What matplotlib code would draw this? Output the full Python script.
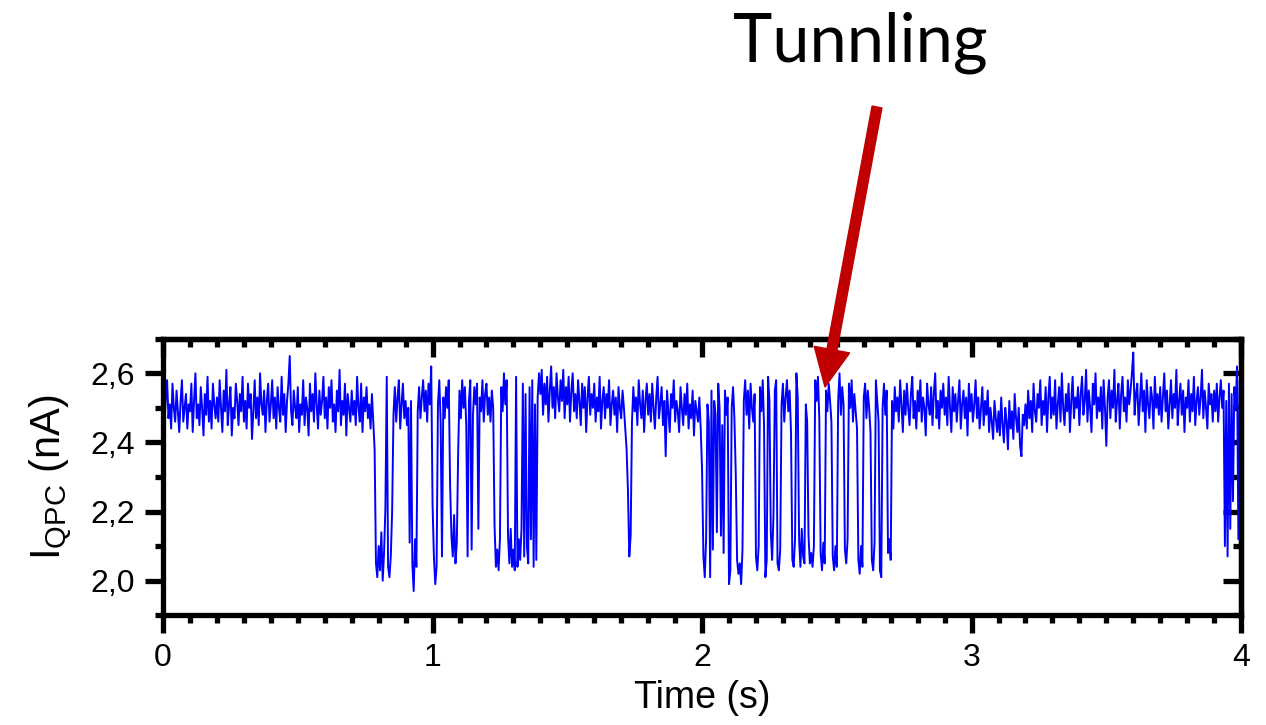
import numpy as np
import matplotlib.pyplot as plt
from matplotlib.ticker import MultipleLocator, FuncFormatter
from matplotlib.patches import FancyArrow
from matplotlib.transforms import IdentityTransform

plt.rcParams['font.family'] = ['Liberation Sans', 'DejaVu Sans']

# QPC current trace, one sample every 5 ms, values in units of 0.01 nA
dt = 0.005
i_qpc_centi = [
    256, 245, 253, 258, 247, 251, 244, 257, 250, 246, 255, 249, 243, 252, 258, 246, 250, 254, 244, 251,
    249, 257, 243, 252, 260, 247, 251, 245, 256, 250, 242, 254, 248, 259, 246, 252, 244, 257, 251, 247,
    253, 246, 258, 250, 243, 255, 249, 261, 245, 251, 256, 242, 250, 247, 257, 252, 245, 254, 249, 259,
    246, 252, 244, 257, 250, 254, 241, 249, 258, 247, 253, 245, 260, 251, 248, 255, 243, 252, 257, 246,
    251, 258, 247, 253, 244, 256, 250, 246, 259, 248, 254, 243, 252, 257, 265, 249, 245, 255, 250, 247,
    256, 243, 251, 248, 258, 245, 253, 250, 242, 257, 249, 254, 246, 260, 251, 244, 255, 248, 252, 259,
    247, 253, 244, 256, 250, 258, 246, 251, 243, 255, 249, 261, 245, 252, 248, 257, 242, 254, 250, 246,
    255, 248, 252, 245, 259, 250, 246, 257, 243, 253, 249, 256, 247, 251, 244, 254, 246, 238, 205, 201,
    210, 203, 214, 200, 208, 221, 259, 204, 201, 207, 220, 248, 256, 246, 253, 258, 244, 251, 257, 247,
    252, 245, 250, 211, 252, 205, 197, 212, 204, 249, 256, 247, 253, 258, 249, 255, 246, 257, 251, 262,
    222, 207, 199, 204, 251, 258, 246, 207, 253, 247, 256, 250, 258, 228, 213, 207, 219, 205, 211, 237,
    255, 247, 258, 250, 256, 245, 207, 252, 258, 209, 248, 256, 251, 257, 215, 253, 249, 258, 246, 254,
    257, 248, 253, 246, 255, 250, 216, 204, 209, 203, 212, 256, 249, 260, 251, 258, 213, 205, 215, 204,
    209, 203, 259, 204, 212, 206, 215, 257, 207, 254, 210, 205, 256, 212, 258, 204, 251, 206, 253, 260,
    254, 261, 248, 257, 251, 259, 246, 255, 262, 250, 256, 247, 260, 253, 249, 258, 252, 261, 247, 256,
    251, 259, 246, 255, 260, 249, 254, 247, 258, 252, 245, 257, 250, 256, 243, 253, 259, 248, 254, 250,
    257, 246, 253, 249, 259, 244, 252, 256, 247, 254, 250, 258, 245, 251, 255, 248, 253, 243, 256, 250,
    247, 255, 250, 244, 238, 226, 207, 213, 246, 256, 249, 253, 245, 258, 251, 247, 255, 243, 252, 257,
    248, 254, 246, 257, 250, 244, 253, 259, 247, 251, 256, 245, 252, 236, 255, 249, 243, 254, 250, 258,
    246, 252, 249, 243, 256, 250, 245, 254, 248, 257, 244, 251, 247, 255, 242, 252, 249, 246, 253, 244,
    232, 207, 201, 212, 251, 246, 201, 255, 209, 252, 248, 214, 257, 250, 213, 245, 208, 255, 248, 253,
    199, 203, 250, 256, 247, 231, 206, 202, 205, 199, 209, 252, 258, 248, 255, 244, 257, 250, 246, 254,
    207, 203, 210, 256, 249, 258, 245, 201, 206, 259, 252, 214, 206, 219, 255, 258, 205, 203, 209, 251,
    257, 246, 253, 258, 249, 255, 243, 206, 204, 212, 260, 253, 212, 204, 215, 207, 205, 251, 246, 213,
    205, 208, 204, 210, 258, 252, 259, 247, 208, 203, 211, 205, 255, 249, 257, 252, 246, 207, 203, 210,
    204, 252, 260, 248, 256, 251, 209, 205, 212, 257, 250, 258, 246, 254, 249, 244, 206, 202, 210, 204,
    253, 257, 247, 255, 250, 243, 206, 203, 211, 258, 252, 246, 203, 201, 250, 257, 248, 255, 208, 212,
    206, 252, 244, 256, 249, 253, 246, 258, 251, 243, 255, 248, 257, 250, 245, 254, 259, 247, 252, 244,
    255, 249, 258, 246, 253, 250, 242, 257, 251, 248, 256, 245, 254, 260, 247, 252, 244, 255, 250, 257,
    248, 253, 245, 259, 250, 243, 256, 249, 254, 246, 252, 258, 244, 251, 255, 247, 253, 242, 257, 249,
    254, 246, 251, 258, 247, 253, 244, 250, 256, 245, 252, 248, 255, 243, 250, 246, 241, 252, 247, 243,
    249, 242, 253, 245, 240, 250, 246, 238, 252, 244, 249, 241, 254, 247, 243, 250, 239, 236, 248, 245,
    251, 244, 255, 247, 252, 243, 257, 249, 246, 254, 250, 258, 245, 252, 248, 256, 243, 253, 259, 247,
    253, 248, 258, 244, 251, 256, 246, 260, 250, 245, 254, 249, 257, 243, 252, 259, 247, 253, 250, 256,
    245, 254, 259, 248, 252, 261, 246, 255, 250, 243, 257, 251, 260, 247, 253, 249, 256, 244, 258, 250,
    239, 253, 258, 247, 255, 250, 261, 246, 252, 257, 244, 254, 259, 249, 253, 246, 258, 251, 255, 260,
    266, 248, 254, 257, 245, 252, 260, 249, 255, 243, 258, 251, 247, 256, 253, 244, 259, 250, 254, 248,
    256, 246, 253, 260, 249, 255, 244, 251, 258, 247, 254, 250, 261, 245, 252, 257, 248, 255, 243, 253,
    250, 258, 246, 254, 249, 259, 245, 252, 256, 248, 253, 261, 247, 255, 250, 244, 257, 251, 254, 246,
    255, 249, 257, 246, 253, 258, 250, 255, 210, 252, 207, 257, 215, 254, 223, 256, 250, 262, 212, 258,
    211,
]

current = np.array(i_qpc_centi) / 100
time = np.arange(len(current)) * dt

fig = plt.figure(figsize=(12.66, 7.25), dpi=100)
ax = fig.add_axes([0.1288, 0.1514, 0.8515, 0.3814])

ax.plot(time, current, color='#0000ff', lw=1.4)

ax.set_xlim(0, 4)
ax.set_ylim(1.9, 2.7)
ax.xaxis.set_major_locator(MultipleLocator(1))
ax.xaxis.set_minor_locator(MultipleLocator(0.1))
ax.yaxis.set_major_locator(MultipleLocator(0.2))
ax.yaxis.set_minor_locator(MultipleLocator(0.1))
ax.yaxis.set_major_formatter(FuncFormatter(lambda v, p: f"{v:.1f}".replace('.', ',')))

lw = 3.8
for s in ax.spines.values():
    s.set_linewidth(lw)
ax.tick_params(which='major', direction='out', length=13, width=lw, labelsize=23, pad=7)
ax.tick_params(which='minor', direction='out', length=6, width=lw)

# top and right axes carry inward ticks only
top = ax.secondary_xaxis('top')
top.xaxis.set_major_locator(MultipleLocator(1))
top.xaxis.set_minor_locator(MultipleLocator(0.1))
top.tick_params(which='major', direction='in', length=13, width=lw, labeltop=False)
top.tick_params(which='minor', direction='in', length=6, width=lw)
right = ax.secondary_yaxis('right')
right.yaxis.set_major_locator(MultipleLocator(0.2))
right.yaxis.set_minor_locator(MultipleLocator(0.1))
right.tick_params(which='major', direction='in', length=13, width=lw, labelright=False)
right.tick_params(which='minor', direction='in', length=6, width=lw)
for sec in (top, right):
    for s in sec.spines.values():
        s.set_linewidth(lw)

ax.set_xlabel('Time (s)', fontsize=27, labelpad=5)
ax.set_ylabel(r'I$_\mathregular{QPC}$ (nA)', fontsize=30, labelpad=12)

# annotation
fig.text(860, 725 - 61, 'Tunnling', transform=IdentityTransform(), fontsize=48,
         family=['Lato', 'DejaVu Sans'], ha='center', va='baseline')
arrow = FancyArrow(877, 725 - 107, 825 - 877, (725 - 387) - (725 - 107), width=10,
                   head_width=36, head_length=38, length_includes_head=True,
                   color='#c00000', transform=IdentityTransform())
fig.add_artist(arrow)

fig.savefig('out.png', dpi=100)
